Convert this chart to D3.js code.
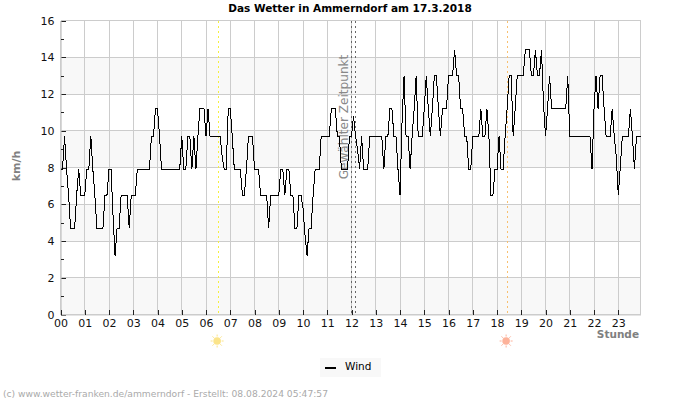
<!DOCTYPE html>
<html>
<head>
<meta charset="utf-8">
<script src="https://cdn.jsdelivr.net/npm/d3@7/dist/d3.min.js"></script>
<style>
html, body { margin: 0; padding: 0; background: #fff; }
svg { display: block; font-family: "DejaVu Sans", sans-serif; }
</style>
</head>
<body>
<svg id="chart" width="700" height="400"></svg>
<script>
// wind in km/h, one reading every 5 minutes, one row per hour
const windValues = [
    7.9, 7.9, 9.7, 7.9, 6.5, 4.7, 4.7, 4.7, 6.5, 7.9, 6.5, 6.5,
    6.5, 7.9, 7.9, 9.7, 7.9, 6.5, 4.7, 4.7, 4.7, 4.7, 6.5, 6.5,
    7.9, 7.9, 5.4, 3.2, 4.7, 4.7, 6.5, 6.5, 6.5, 6.5, 4.7, 6.5,
    6.5, 6.5, 7.9, 7.9, 7.9, 7.9, 7.9, 7.9, 7.9, 9.7, 9.7, 11.2,
    11.2, 9.7, 7.9, 7.9, 7.9, 7.9, 7.9, 7.9, 7.9, 7.9, 7.9, 7.9,
    9.7, 7.9, 7.9, 9.7, 9.7, 7.9, 9.7, 7.9, 9.7, 11.2, 11.2, 11.2,
    9.7, 11.2, 9.7, 9.7, 9.7, 9.7, 9.7, 9.7, 8.6, 7.9, 7.9, 11.2,
    11.2, 9.7, 7.9, 7.9, 7.9, 7.9, 6.5, 6.5, 7.9, 9.7, 9.7, 9.7,
    7.9, 7.9, 7.9, 6.5, 6.5, 6.5, 6.5, 4.7, 6.5, 6.5, 6.5, 6.5,
    6.5, 7.9, 7.9, 6.5, 7.9, 7.9, 6.5, 6.5, 4.7, 4.7, 6.5, 6.5,
    5.8, 4.3, 3.2, 4.7, 4.7, 6.5, 7.9, 7.9, 7.9, 9.7, 9.7, 9.7,
    9.7, 9.7, 11.2, 11.2, 11.2, 9.7, 9.7, 7.9, 7.9, 7.9, 7.9, 9.7,
    9.7, 10.8, 9.7, 9.0, 7.9, 9.7, 7.9, 7.9, 7.9, 9.7, 9.7, 9.7,
    9.7, 9.7, 9.7, 9.7, 7.9, 9.7, 9.7, 11.2, 11.2, 9.7, 9.7, 7.9,
    6.5, 10.5, 13, 9.7, 9.7, 7.9, 9.7, 11.2, 13, 9.7, 9.7, 9.7,
    11.2, 13, 11.2, 9.7, 11.2, 13, 13, 11.2, 9.7, 11.2, 11.2, 11.2,
    13, 13, 13, 14.4, 13, 13, 11.2, 11.2, 9.7, 9.7, 7.9, 7.9,
    9.7, 9.7, 9.7, 9.7, 11.2, 9.7, 9.7, 11.2, 9.7, 6.5, 6.5, 7.9,
    7.9, 9.7, 7.9, 7.9, 9.7, 11.2, 13, 13, 9.7, 11.2, 13, 13,
    13, 13, 14.4, 14.4, 14.4, 13, 13, 14.4, 13, 13, 14.4, 11.5,
    9.7, 11.2, 13, 11.2, 11.2, 11.2, 11.2, 11.2, 11.2, 11.2, 11.2, 13,
    9.7, 9.7, 9.7, 9.7, 9.7, 9.7, 9.7, 9.7, 9.7, 9.7, 9.7, 7.9,
    11.2, 13, 11.2, 13, 13, 11.2, 9.7, 9.7, 9.7, 11.2, 9.7, 8.6,
    6.5, 8, 9.7, 9.7, 9.7, 9.7, 11.2, 9.7, 7.9, 9.7, 9.7, 9.7
];
const hourLabels = ["00","01","02","03","04","05","06","07","08","09","10","11",
                    "12","13","14","15","16","17","18","19","20","21","22","23"];
const majorTicks = [0, 2, 4, 6, 8, 10, 12, 14, 16];
const minorTicks = [1, 3, 5, 7, 9, 11, 13, 15];
const bandStarts = [0, 4, 8, 12];
const sunEvents = [
    {pos: 78, line: "#f4f040", sun: "#fbe48a"},   // sunrise
    {pos: 221, line: "#f8c070", sun: "#fdb29a"}   // sunset
];
const nowLines = [144, 146];

let svg = d3.select("#chart");

let x = d3.scaleLinear().domain([0, 287]).range([60.5, 640.5]);
let y = d3.scaleLinear().domain([0, 16]).range([314.5, 20.5]);

//bands
svg.append("g").selectAll("rect")
    .data(bandStarts)
    .enter().append("rect")
    .attr("x", x(0))
    .attr("width", x(287) - x(0))
    .attr("y", d => y(d + 2))
    .attr("height", d => y(d) - y(d + 2))
    .attr("fill", "#f8f8f8");

//grid
let grid = svg.append("g").attr("stroke", "#cccccc").attr("shape-rendering", "crispEdges");
grid.selectAll("line.h")
    .data(majorTicks)
    .enter().append("line").attr("class", "h")
    .attr("x1", x(0)).attr("x2", x(287))
    .attr("y1", d => y(d)).attr("y2", d => y(d));
grid.selectAll("line.v")
    .data(hourLabels.map((d, i) => i * 12).concat([287]))
    .enter().append("line").attr("class", "v")
    .attr("y1", y(0)).attr("y2", y(16))
    .attr("x1", d => x(d)).attr("x2", d => x(d));

//sunrise, sunset and selected time
svg.append("g").selectAll("line")
    .data(sunEvents)
    .enter().append("line")
    .attr("x1", d => x(d.pos)).attr("x2", d => x(d.pos))
    .attr("y1", y(16)).attr("y2", y(0))
    .attr("stroke", d => d.line)
    .attr("stroke-dasharray", "2,3")
    .attr("shape-rendering", "crispEdges");
svg.append("g").selectAll("line")
    .data(nowLines)
    .enter().append("line")
    .attr("x1", d => x(d)).attr("x2", d => x(d))
    .attr("y1", y(16)).attr("y2", y(0))
    .attr("stroke", "#666")
    .attr("stroke-dasharray", "2,3")
    .attr("shape-rendering", "crispEdges");

svg.append("text")
    .attr("transform", "translate(348,117) rotate(-90)")
    .attr("text-anchor", "middle")
    .attr("font-size", 12.1)
    .attr("fill", "#888")
    .text("Gewählter Zeitpunkt");

//axes
let yAxis = d3.axisLeft(y).tickValues(majorTicks).tickSize(-5).tickSizeOuter(0).tickPadding(6).tickFormat(d3.format("d"));
let yMinor = d3.axisLeft(y).tickValues(minorTicks).tickSize(-3).tickSizeOuter(0).tickFormat("");
let xAxis = d3.axisBottom(x)
    .tickValues(hourLabels.map((d, i) => i * 12))
    .tickSize(-5).tickSizeOuter(0).tickPadding(6)
    .tickFormat(d => hourLabels[d / 12]);

let yg = svg.append("g").attr("transform", "translate(60.5,0)").call(yAxis);
let yg2 = svg.append("g").attr("transform", "translate(60.5,0)").call(yMinor);
let xg = svg.append("g").attr("transform", "translate(0,314.5)").call(xAxis);
for (let g of [yg, yg2, xg]) {
    g.select(".domain").attr("stroke", "#cccccc");
    g.selectAll(".tick line").attr("stroke", "#222").attr("shape-rendering", "crispEdges");
    g.selectAll("text").attr("font-family", "DejaVu Sans").attr("font-size", 11).attr("fill", "#111");
}
xg.selectAll("text").attr("dy", "0.6em");

//wind line
svg.append("path")
    .datum(windValues)
    .attr("fill", "none")
    .attr("stroke", "#000")
    .attr("stroke-width", 1)
    .attr("shape-rendering", "crispEdges")
    .attr("d", d3.line().x((d, i) => x(i)).y(d => y(d)));

//suns under the axis
let rayAngles = d3.range(0, 360, 45);
let suns = svg.append("g").selectAll("g")
    .data(sunEvents)
    .enter().append("g")
    .attr("transform", d => "translate(" + (x(d.pos) - 1) + ",341)");
suns.append("circle").attr("r", 3.8).attr("fill", d => d.sun);
suns.selectAll("line")
    .data(d => rayAngles.map(a => ({a: a, c: d.sun})))
    .enter().append("line")
    .attr("x1", d => 4.5 * Math.cos(d.a * Math.PI / 180))
    .attr("y1", d => 4.5 * Math.sin(d.a * Math.PI / 180))
    .attr("x2", d => 6.5 * Math.cos(d.a * Math.PI / 180))
    .attr("y2", d => 6.5 * Math.sin(d.a * Math.PI / 180))
    .attr("stroke", d => d.c)
    .attr("stroke-width", 1);

//texts
svg.append("text")
    .attr("x", 350).attr("y", 12)
    .attr("text-anchor", "middle")
    .attr("font-size", 10.5).attr("font-weight", "bold").attr("fill", "#000")
    .text("Das Wetter in Ammerndorf am 17.3.2018");
svg.append("text")
    .attr("transform", "translate(20,166) rotate(-90)")
    .attr("text-anchor", "middle")
    .attr("font-size", 11).attr("font-weight", "bold").attr("fill", "#808080")
    .text("km/h");
svg.append("text")
    .attr("x", 639).attr("y", 338)
    .attr("text-anchor", "end")
    .attr("font-size", 10.5).attr("font-weight", "bold").attr("fill", "#808080")
    .text("Stunde");

//legend
svg.append("rect")
    .attr("x", 320).attr("y", 358)
    .attr("width", 61).attr("height", 19)
    .attr("fill", "#f8f8f8");
svg.append("line")
    .attr("x1", 325).attr("x2", 336)
    .attr("y1", 367.5).attr("y2", 367.5)
    .attr("stroke", "#000").attr("stroke-width", 2)
    .attr("shape-rendering", "crispEdges");
svg.append("text")
    .attr("x", 345).attr("y", 370)
    .attr("font-size", 10.5).attr("fill", "#000")
    .text("Wind");

//footer
svg.append("text")
    .attr("x", 3).attr("y", 397)
    .attr("font-size", 9.17).attr("fill", "#aaaaaa")
    .text("(c) www.wetter-franken.de/ammerndorf - Erstellt: 08.08.2024 05:47:57");
</script>
</body>
</html>
